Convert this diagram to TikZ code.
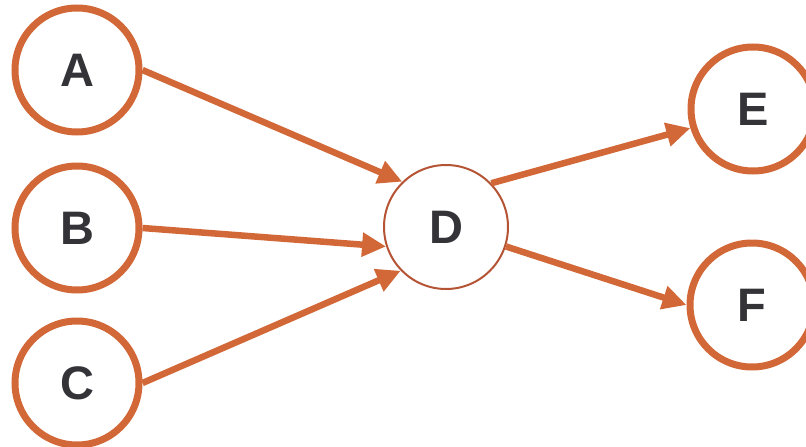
\documentclass[tikz,border=0pt]{standalone}
\usepackage{fontspec}
\setmainfont{Liberation Sans}
\usetikzlibrary{arrows.meta}
\definecolor{rust}{RGB}{210,104,56}
\definecolor{hubrim}{RGB}{180,84,52}
\definecolor{ink}{RGB}{51,51,56}
\tikzset{
  vtx/.style={circle, draw=rust, line width=7pt, minimum size=124pt, inner sep=0pt,
    text=ink, font=\fontsize{47}{47}\selectfont\bfseries},
  hub/.style={vtx, draw=hubrim, line width=2pt},
  flow/.style={rust, line width=6.5pt, -{Triangle[length=24pt,width=23pt]}}
}
\begin{document}
\begin{tikzpicture}[x=1pt, y=-1pt]
    \useasboundingbox (0,0) rectangle (806,447);
    \node[vtx] (A) at (77,70) {A};
    \node[vtx] (B) at (77,228) {B};
    \node[vtx] (C) at (77,383) {C};
    \node[hub] (D) at (446,227) {D};
    \node[vtx] (E) at (753,109) {E};
    \node[vtx] (F) at (752,305) {F};
    \draw[flow] (A.east) -- (D.134);
    \draw[flow] (B.east) -- (D.198);
    \draw[flow] (C.east) -- (D.224);
    \draw[flow] (D.44) -- (E.197);
    \draw[flow] (D.342) -- (F.west);
\end{tikzpicture}
\end{document}
